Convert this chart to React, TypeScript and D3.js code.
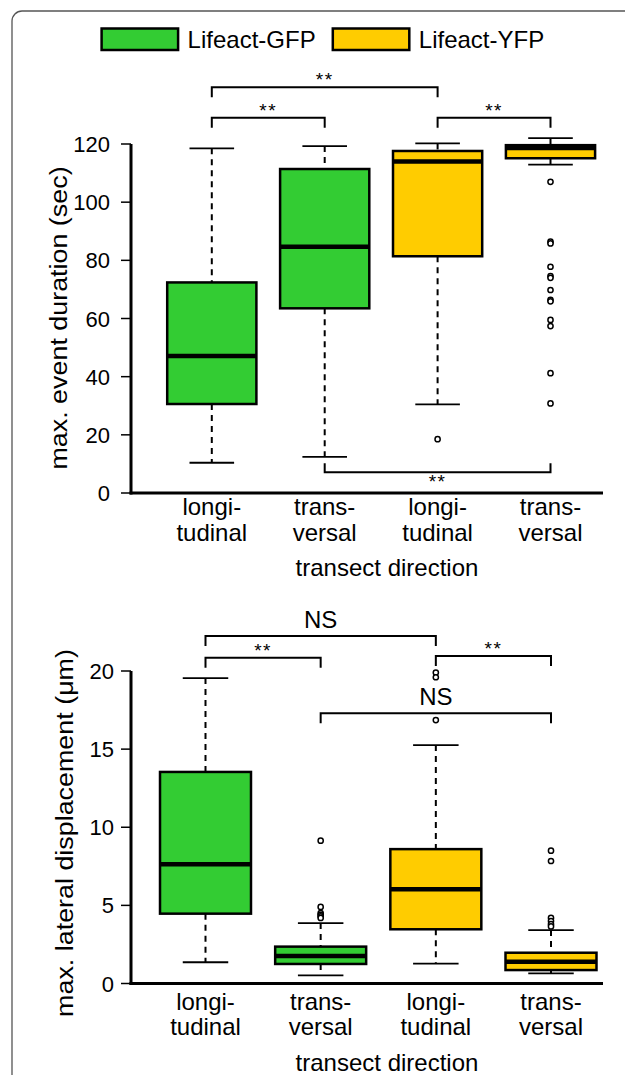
import React from "react";
import * as d3 from "d3";

// categories (two transect directions per probe)
const categories = ["gfp-longi", "gfp-trans", "yfp-longi", "yfp-trans"];
const catLines = [["longi-", "tudinal"], ["trans-", "versal"], ["longi-", "tudinal"], ["trans-", "versal"]];
const catGroup = ["GFP", "GFP", "YFP", "YFP"];
const legendLabels = ["Lifeact-GFP", "Lifeact-YFP"];

// top panel: max. event duration (sec)
const durTicks = [0, 20, 40, 60, 80, 100, 120];
const durLo = [10.4, 12.4, 30.5, 112.9];
const durQ1 = [30.6, 63.5, 81.4, 115.1];
const durMed = [47.1, 84.7, 114.0, 118.6];
const durQ3 = [72.4, 111.4, 117.6, 119.6];
const durHi = [118.5, 119.3, 120.2, 122.0];
const durOut = [[], [], [18.5], [107, 86.4, 85.8, 77.8, 74.6, 74.0, 69.8, 66.4, 65.9, 59.5, 57.4, 41.2, 30.8]];
const durSig = [
  { a: 0, b: 2, y: 139.5, label: "**", down: true },
  { a: 0, b: 1, y: 129, label: "**", down: true },
  { a: 2, b: 3, y: 129, label: "**", down: true },
  { a: 1, b: 3, y: 7.1, label: "**", down: false },
];

// bottom panel: max. lateral displacement (um)
const dispTicks = [0, 5, 10, 15, 20];
const dispLo = [1.36, 0.52, 1.27, 0.65];
const dispQ1 = [4.47, 1.25, 3.47, 0.86];
const dispMed = [7.63, 1.76, 6.03, 1.4];
const dispQ3 = [13.54, 2.36, 8.6, 1.97];
const dispHi = [19.55, 3.87, 15.26, 3.42];
const dispOut = [[], [9.14, 4.9, 4.5, 4.4, 4.3, 4.2], [19.9, 19.6, 16.86], [8.5, 7.84, 4.2, 4.0, 3.8, 3.65]];
const dispSig = [
  { a: 0, b: 2, y: 22.24, label: "NS", down: true },
  { a: 0, b: 1, y: 20.85, label: "**", down: true },
  { a: 2, b: 3, y: 20.96, label: "**", down: true },
  { a: 1, b: 3, y: 17.29, label: "NS", down: true },
];

const fill = { GFP: "#33cc33", YFP: "#ffcc00" };
const FONT = "'Liberation Sans', Arial, sans-serif";

function Panel({ x, y, ticks, lo, q1, med, q3, hi, out, sig, title, titleY, titleX, labelEnd, catOff }) {
  const boxW = (x.step() || 1) * 0.79;
  const axisX = 131;
  const y0 = y(0);
  return (
    <g>
      {/* y axis */}
      <line x1={axisX} x2={axisX} y1={y(ticks[ticks.length - 1])} y2={y0 + 1.5} stroke="#000" strokeWidth={3} />
      {ticks.map((t) => (
        <g key={t}>
          <line x1={axisX - 10} x2={axisX} y1={y(t)} y2={y(t)} stroke="#000" strokeWidth={1.5} />
          <text x={labelEnd} y={y(t) + 8} textAnchor="end" fontSize={22}>{t}</text>
        </g>
      ))}
      <text transform={`translate(${titleX},${titleY}) rotate(-90) scale(1.12,1)`} textAnchor="middle" fontSize={24}>{title}</text>
      {/* x axis */}
      <line x1={axisX - 1.5} x2={603} y1={y0} y2={y0} stroke="#000" strokeWidth={3} />
      {categories.map((c, i) => (
        <g key={c}>
          <text x={x(c)} y={y0 + catOff} textAnchor="middle" fontSize={24}>{catLines[i][0]}</text>
          <text x={x(c)} y={y0 + catOff + 25.5} textAnchor="middle" fontSize={24}>{catLines[i][1]}</text>
        </g>
      ))}
      <text x={387} y={y0 + catOff + 61} textAnchor="middle" fontSize={24}>transect direction</text>
      {/* boxes */}
      {categories.map((c, i) => {
        const cx = x(c);
        return (
          <g key={c}>
            <line x1={cx} x2={cx} y1={y(hi[i])} y2={y(q3[i])} stroke="#000" strokeWidth={2} strokeDasharray="6,5" />
            <line x1={cx} x2={cx} y1={y(q1[i])} y2={y(lo[i])} stroke="#000" strokeWidth={2} strokeDasharray="6,5" />
            <line x1={cx - boxW / 4} x2={cx + boxW / 4} y1={y(hi[i])} y2={y(hi[i])} stroke="#000" strokeWidth={1.8} />
            <line x1={cx - boxW / 4} x2={cx + boxW / 4} y1={y(lo[i])} y2={y(lo[i])} stroke="#000" strokeWidth={1.8} />
            <rect x={cx - boxW / 2} y={y(q3[i])} width={boxW} height={y(q1[i]) - y(q3[i])} fill={fill[catGroup[i]]} stroke="#000" strokeWidth={2.5} />
            <line x1={cx - boxW / 2} x2={cx + boxW / 2} y1={y(med[i])} y2={y(med[i])} stroke="#000" strokeWidth={4.5} />
            {out[i].map((v, j) => (
              <circle key={j} cx={cx} cy={y(v)} r={2.6} fill="#fff" stroke="#000" strokeWidth={1.5} />
            ))}
          </g>
        );
      })}
      {/* significance brackets */}
      {sig.map((s, k) => {
        const xa = x(categories[s.a]);
        const xb = x(categories[s.b]);
        const ly = y(s.y);
        const d = s.down ? 10 : -9;
        const star = s.label === "**";
        const ty = s.down ? (star ? ly - 1 : ly - 8) : ly + 16;
        return (
          <g key={k}>
            <path d={`M${xa},${ly + d}V${ly}H${xb}V${ly + d}`} fill="none" stroke="#000" strokeWidth={2} />
            <text x={(xa + xb) / 2} y={ty} textAnchor="middle" fontSize={star ? 19 : 24} letterSpacing={star ? 1.5 : 0}>{s.label}</text>
          </g>
        );
      })}
    </g>
  );
}

export default function App() {
  const xTop = d3.scalePoint().domain(categories).range([211.8, 550.5]);
  const yTop = d3.scaleLinear().domain([0, 120]).range([493, 144]);
  const xBot = d3.scalePoint().domain(categories).range([205.5, 551]);
  const yBot = d3.scaleLinear().domain([0, 20]).range([983.5, 671]);
  const legendX = [101.6, 332.8];

  return (
    <svg width={625} height={1075} style={{ position: "absolute", left: 0, top: 0, background: "#fff" }} fontFamily={FONT}>
      <rect x={12} y={11} width={700} height={1200} rx={10} fill="#fff" stroke="#555" strokeWidth={1.3} />
      {legendLabels.map((l, i) => (
        <g key={l}>
          <rect x={legendX[i]} y={28.5} width={76.5} height={21.5} fill={fill[i === 0 ? "GFP" : "YFP"]} stroke="#000" strokeWidth={2.5} />
          <text x={legendX[i] + 86} y={47.5} fontSize={24}>{l}</text>
        </g>
      ))}
      <Panel x={xTop} y={yTop} ticks={durTicks} lo={durLo} q1={durQ1} med={durMed} q3={durQ3} hi={durHi} out={durOut} sig={durSig}
        title="max. event duration (sec)" titleX={67} titleY={318} labelEnd={110} catOff={22} />
      <Panel x={xBot} y={yBot} ticks={dispTicks} lo={dispLo} q1={dispQ1} med={dispMed} q3={dispQ3} hi={dispHi} out={dispOut} sig={dispSig}
        title={"max. lateral displacement  (\u03bcm)"} titleX={73} titleY={833} labelEnd={114} catOff={26} />
    </svg>
  );
}
